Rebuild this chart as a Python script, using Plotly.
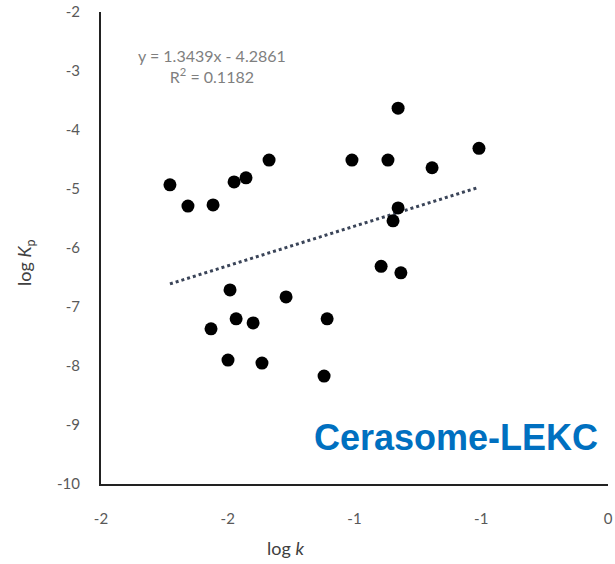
import plotly.graph_objects as go

log_k = [-1.728, -1.657, -1.558, -1.475, -1.428, -1.337,
         -1.010, -0.868, -0.828, -0.694, -0.509, -0.828,
         -0.848, -0.895, -0.817, -1.491, -1.270, -1.467,
         -1.400, -1.566, -1.499, -1.365, -1.108, -1.120]
log_Kp = [-4.93, -5.29, -5.27, -4.88, -4.81, -4.51,
          -4.51, -4.51, -3.63, -4.64, -4.31, -5.32,
          -5.54, -6.31, -6.42, -6.71, -6.83, -7.20,
          -7.27, -7.37, -7.90, -7.95, -7.20, -8.17]

slope = 1.3439
intercept = -4.2861
x_tickvals = [-2, -1.5, -1, -0.5, 0]
x_ticktext = ["-2", "-2", "-1", "-1", "0"]
y_tickvals = [-10, -9, -8, -7, -6, -5, -4, -3, -2]
y_ticktext = ["-10", "-9", "-8", "-7", "-6", "-5", "-4", "-3", "-2"]

xfit = [min(log_k), max(log_k)]
yfit = [slope * v + intercept for v in xfit]

FONT = "Lato, Open Sans, sans-serif"

fig = go.Figure()
fig.add_trace(go.Scatter(x=xfit, y=yfit, mode="lines",
                         line=dict(color="#3a4458", width=3, dash="dot"),
                         hoverinfo="skip", showlegend=False))
fig.add_trace(go.Scatter(x=log_k, y=log_Kp, mode="markers",
                         marker=dict(color="black", size=13),
                         showlegend=False))

fig.add_annotation(x=0.219, y=1 - (66 - 12) / 472, xref="paper", yref="paper",
                   text="y = 1.3439x - 4.2861<br>R<sup>2</sup> = 0.1182",
                   showarrow=False, align="center", xanchor="center", yanchor="middle",
                   font=dict(family=FONT, size=16, color="#7f7f7f"))
fig.add_annotation(x=0.984, y=0.098, xref="paper", yref="paper",
                   xanchor="right", yanchor="middle",
                   text="<b>Cerasome-LEKC</b>", showarrow=False,
                   font=dict(family="Liberation Sans, Arial, sans-serif", size=36, color="#0070C0"))
# axis titles
fig.add_annotation(x=(285 - 101) / 507, y=-(548 - 484) / 472, xref="paper", yref="paper",
                   xanchor="center", yanchor="middle", showarrow=False,
                   text="log <i>k</i>", font=dict(family=FONT, size=18, color="#404040"))
fig.add_annotation(x=-(101 - 25) / 507, y=(484 - 263) / 472, xref="paper", yref="paper",
                   xanchor="center", yanchor="middle", showarrow=False, textangle=-90,
                   text="log <i>K</i><sub>p</sub>", font=dict(family=FONT, size=18, color="#404040"))

fig.update_layout(
    width=615, height=564,
    margin=dict(l=101, r=7, t=12, b=80, autoexpand=False),
    plot_bgcolor="white", paper_bgcolor="white",
    font=dict(family=FONT, size=15, color="#595959"),
    xaxis=dict(range=[-2, 0], tickvals=x_tickvals, ticktext=x_ticktext,
               showgrid=False, zeroline=False, showline=True, automargin=False,
               linecolor="#222222", linewidth=2, ticks="", ticklabelstandoff=20),
    yaxis=dict(range=[-10, -2], tickvals=y_tickvals, ticktext=y_ticktext,
               showgrid=False, zeroline=False, showline=True, automargin=False,
               linecolor="#222222", linewidth=2, ticks="", ticklabelstandoff=16),
)

fig.write_html("out.html")
